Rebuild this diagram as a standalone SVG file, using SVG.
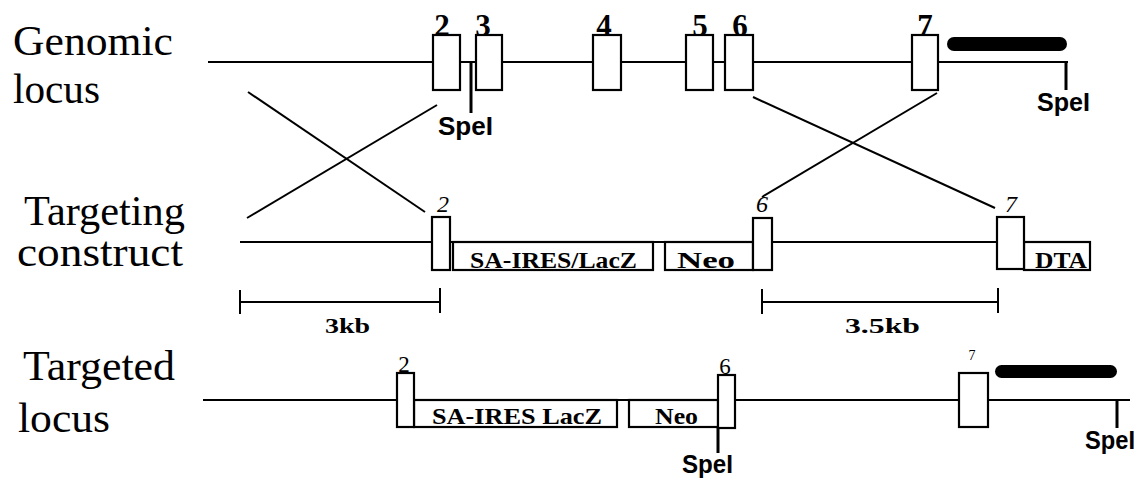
<svg xmlns="http://www.w3.org/2000/svg" width="1140" height="481" viewBox="0 0 1140 481">
<style>
.bg{fill:#fff}
.ln{stroke:#000;stroke-width:2;fill:none}
.ex{fill:#fff;stroke:#000;stroke-width:2.2}
.bx{fill:#fff;stroke:#000;stroke-width:2.2}
.bar{fill:#000}
.title{font-family:"Liberation Serif","Times New Roman",serif;font-size:43px;fill:#000}
.gn{font-family:"Liberation Serif","Times New Roman",serif;font-size:31px;font-weight:bold;fill:#000;text-anchor:middle}
.tn{font-family:"Liberation Serif","Times New Roman",serif;font-size:24px;font-style:italic;fill:#000;text-anchor:middle}
.dn{font-family:"Liberation Serif","Times New Roman",serif;font-size:23px;fill:#000;text-anchor:middle}
.sp{font-family:"Liberation Sans",Arial,sans-serif;font-size:25px;font-weight:bold;fill:#000}
.cas{font-family:"Liberation Serif","Times New Roman",serif;font-size:24px;font-weight:bold;fill:#000}
.kb{font-family:"Liberation Serif","Times New Roman",serif;font-size:22px;font-weight:bold;fill:#000}
</style>
<rect class="bg" x="0" y="0" width="1140" height="481"/>

<g id="labels">
<text class="title" x="13" y="55" textLength="160" lengthAdjust="spacingAndGlyphs">Genomic</text>
<text class="title" x="13" y="103" textLength="87" lengthAdjust="spacingAndGlyphs">locus</text>
<text class="title" x="24" y="225" textLength="161" lengthAdjust="spacingAndGlyphs">Targeting</text>
<text class="title" x="17" y="266" textLength="166" lengthAdjust="spacingAndGlyphs">construct</text>
<text class="title" x="23" y="380" textLength="152" lengthAdjust="spacingAndGlyphs">Targeted</text>
<text class="title" x="18" y="432" textLength="92" lengthAdjust="spacingAndGlyphs">locus</text>
</g>

<g id="genomic-locus">
<line class="ln" x1="208" y1="62" x2="1068" y2="62"/>
<line class="ln" x1="1066" y1="62" x2="1066" y2="90" style="stroke-width:3"/>
<line class="ln" x1="471" y1="62" x2="471" y2="113" style="stroke-width:3"/>
<g id="g-exon2"><rect class="ex" x="433" y="35" width="27" height="55"/><text class="gn" x="442" y="36">2</text></g>
<g id="g-exon3"><rect class="ex" x="476" y="35" width="26" height="55"/><text class="gn" x="483" y="36">3</text></g>
<g id="g-exon4"><rect class="ex" x="593" y="35" width="28" height="55"/><text class="gn" x="604" y="36">4</text></g>
<g id="g-exon5"><rect class="ex" x="686" y="35" width="27" height="55"/><text class="gn" x="700" y="36">5</text></g>
<g id="g-exon6"><rect class="ex" x="725" y="35" width="28" height="55"/><text class="gn" x="740" y="36">6</text></g>
<g id="g-exon7"><rect class="ex" x="912" y="35" width="26" height="55"/><text class="gn" x="925" y="36">7</text></g>
<rect class="bar" x="947" y="37" width="120" height="14" rx="7"/>
<text class="sp" x="438" y="135" textLength="55" lengthAdjust="spacingAndGlyphs">SpeI</text>
<text class="sp" x="1037" y="111" textLength="53" lengthAdjust="spacingAndGlyphs">SpeI</text>
</g>

<g id="targeting-construct">
<line class="ln" x1="240" y1="242" x2="1090" y2="242"/>
<rect class="bx" x="453" y="242" width="200" height="28"/>
<text class="cas" x="470" y="268" textLength="167" lengthAdjust="spacingAndGlyphs">SA-IRES/LacZ</text>
<rect class="bx" x="665" y="242" width="88" height="28"/>
<text class="cas" x="677" y="268" textLength="58" lengthAdjust="spacingAndGlyphs">Neo</text>
<rect class="bx" x="1024" y="242" width="66" height="28"/>
<text class="cas" x="1035" y="268" textLength="52" lengthAdjust="spacingAndGlyphs">DTA</text>
<g id="t-exon2"><rect class="ex" x="432" y="217" width="18" height="53"/><text class="tn" x="443" y="212">2</text></g>
<g id="t-exon6"><rect class="ex" x="753" y="218" width="19" height="52"/><text class="tn" x="762" y="212">6</text></g>
<g id="t-exon7"><rect class="ex" x="997" y="217" width="27" height="52"/><text class="tn" x="1011" y="212">7</text></g>
</g>

<g id="scale-bars">
<line class="ln" x1="240" y1="302" x2="440" y2="302"/>
<line class="ln" x1="240" y1="290" x2="240" y2="314"/>
<line class="ln" x1="440" y1="288" x2="440" y2="313"/>
<text class="kb" x="325" y="333" textLength="45" lengthAdjust="spacingAndGlyphs">3kb</text>
<line class="ln" x1="762" y1="302" x2="998" y2="302"/>
<line class="ln" x1="762" y1="289" x2="762" y2="314"/>
<line class="ln" x1="998" y1="288" x2="998" y2="313"/>
<text class="kb" x="845" y="333" textLength="75" lengthAdjust="spacingAndGlyphs">3.5kb</text>
</g>

<g id="targeted-locus">
<line class="ln" x1="203" y1="400" x2="1130" y2="400"/>
<line class="ln" x1="1117" y1="400" x2="1117" y2="428" style="stroke-width:3"/>
<line class="ln" x1="718" y1="428" x2="718" y2="453" style="stroke-width:3"/>
<rect class="bx" x="414" y="400" width="203" height="27"/>
<text class="cas" x="432" y="424" textLength="170" lengthAdjust="spacingAndGlyphs">SA-IRES LacZ</text>
<rect class="bx" x="629" y="400" width="89" height="27"/>
<text class="cas" x="655" y="424" textLength="43" lengthAdjust="spacingAndGlyphs">Neo</text>
<g id="d-exon2"><rect class="ex" x="397" y="373" width="17" height="54"/><text class="dn" x="404" y="372">2</text></g>
<g id="d-exon6"><rect class="ex" x="718" y="375" width="17" height="53"/><text class="dn" x="725" y="374">6</text></g>
<g id="d-exon7"><rect class="ex" x="959" y="373" width="29" height="54"/><text class="dn" x="972" y="360" style="font-size:14px">7</text></g>
<rect class="bar" x="995" y="365" width="122" height="13" rx="6.5"/>
<text class="sp" x="682" y="473" textLength="51" lengthAdjust="spacingAndGlyphs">SpeI</text>
<text class="sp" x="1085" y="449" textLength="50" lengthAdjust="spacingAndGlyphs">SpeI</text>
</g>

<g id="connectors">
<line class="ln" x1="248" y1="92" x2="425" y2="212"/>
<line class="ln" x1="437" y1="105" x2="247" y2="218"/>
<line class="ln" x1="753" y1="97" x2="995" y2="208"/>
<line class="ln" x1="937" y1="93" x2="762" y2="197"/>
</g>
</svg>
